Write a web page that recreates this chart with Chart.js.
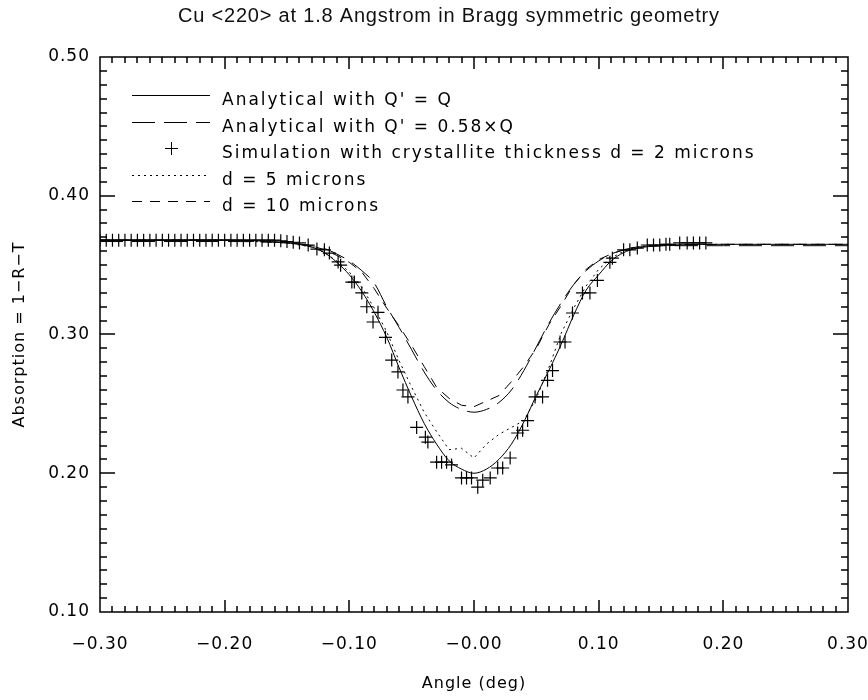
<!DOCTYPE html>
<html>
<head>
<meta charset="utf-8">
<script src="https://cdn.jsdelivr.net/npm/chart.js@4.4.1/dist/chart.umd.min.js"></script>
<style>
html, body { margin: 0; padding: 0; background: #fff; }
</style>
</head>
<body>
<canvas id="absChart" width="868" height="700"></canvas>
<script>
// axis ticks
const xTickValues = [-0.3, -0.2, -0.1, 0, 0.1, 0.2, 0.3];
const xTickLabels = ["\u22120.30", "\u22120.20", "\u22120.10", "\u22120.00", "0.10", "0.20", "0.30"];
const yTickValues = [0.1, 0.2, 0.3, 0.4, 0.5];
const yTickLabels = ["0.10", "0.20", "0.30", "0.40", "0.50"];

// angle grid used by the curves
const lineAngles = [-0.30, -0.20, -0.15, -0.13, -0.12, -0.11, -0.10, -0.09, -0.08, -0.07, -0.06,
    -0.05, -0.04, -0.03, -0.02, -0.01, 0.00, 0.01, 0.02, 0.03, 0.04, 0.05, 0.06, 0.07, 0.08,
    0.09, 0.10, 0.11, 0.12, 0.13, 0.15, 0.20, 0.30];

// analytical Q' = Q (solid)
const analyticQ = [0.368, 0.368, 0.366, 0.363, 0.359, 0.352, 0.343, 0.331, 0.316, 0.298, 0.276,
    0.255, 0.236, 0.221, 0.209, 0.203, 0.200, 0.203, 0.210, 0.221, 0.237, 0.256, 0.274, 0.293, 0.314,
    0.332, 0.343, 0.353, 0.359, 0.362, 0.364, 0.365, 0.365];

// analytical Q' = 0.58xQ (long dash)
const analytic058 = [0.367, 0.367, 0.366, 0.364, 0.362, 0.358, 0.353, 0.346, 0.337, 0.320, 0.305,
    0.289, 0.273, 0.260, 0.251, 0.246, 0.244, 0.246, 0.251, 0.260, 0.274, 0.291, 0.308, 0.323, 0.336,
    0.346, 0.353, 0.358, 0.361, 0.363, 0.364, 0.364, 0.364];

// simulation d = 5 microns (dotted)
const sim5 = [0.368, 0.368, 0.366, 0.363, 0.359, 0.353, 0.345, 0.334, 0.319, 0.302, 0.281,
    0.262, 0.244, 0.230, 0.217, 0.218, 0.211, 0.221, 0.228, 0.233, 0.238, 0.254, 0.276, 0.301, 0.319,
    0.335, 0.347, 0.355, 0.360, 0.363, 0.365, 0.365, 0.365];

// simulation d = 10 microns (short dash)
const sim10 = [0.368, 0.368, 0.366, 0.364, 0.361, 0.357, 0.352, 0.345, 0.333, 0.319, 0.306,
    0.292, 0.277, 0.262, 0.254, 0.249, 0.248, 0.252, 0.256, 0.266, 0.277, 0.290, 0.307, 0.321, 0.336,
    0.347, 0.354, 0.358, 0.361, 0.363, 0.364, 0.365, 0.365];

// simulation d = 2 microns (crosses)
const sim2Angles = [
    -0.300, -0.295, -0.290, -0.285, -0.280, -0.275, -0.270, -0.265, -0.260, -0.255,
    -0.250, -0.245, -0.240, -0.235, -0.230, -0.225, -0.220, -0.215, -0.210, -0.205,
    -0.200, -0.195, -0.190, -0.185, -0.180, -0.175, -0.170, -0.165, -0.160, -0.155,
    -0.150, -0.145, -0.140,
    -0.133, -0.126, -0.120, -0.116, -0.109, -0.107, -0.098, -0.096, -0.090, -0.086,
    -0.081, -0.077, -0.071, -0.066, -0.061, -0.057, -0.053, -0.046, -0.039, -0.037,
    -0.030, -0.026, -0.022, -0.018, -0.010, -0.006, -0.002, 0.003, 0.007, 0.013,
    0.019, 0.023, 0.029, 0.035, 0.039, 0.043, 0.049, 0.055, 0.059, 0.063,
    0.069, 0.073, 0.079, 0.087, 0.093, 0.099, 0.109, 0.111, 0.120, 0.125,
    0.131, 0.139, 0.144, 0.149, 0.154, 0.157, 0.165, 0.171, 0.176, 0.181, 0.186];
const sim2 = [
    0.368, 0.368, 0.368, 0.368, 0.368, 0.368, 0.368, 0.368, 0.368, 0.368,
    0.368, 0.368, 0.368, 0.368, 0.368, 0.368, 0.368, 0.368, 0.368, 0.368,
    0.368, 0.368, 0.368, 0.368, 0.368, 0.368, 0.368, 0.368, 0.368, 0.3675,
    0.367, 0.3665, 0.366,
    0.3645, 0.3616, 0.361, 0.3587, 0.3523, 0.350, 0.3378, 0.3378, 0.330, 0.320,
    0.309, 0.316, 0.298, 0.2816, 0.273, 0.260, 0.255, 0.233, 0.226, 0.2225,
    0.208, 0.208, 0.208, 0.206, 0.1966, 0.1966, 0.1966, 0.190, 0.195, 0.1966,
    0.2038, 0.2038, 0.211, 0.229, 0.231, 0.238, 0.255, 0.255, 0.267, 0.274,
    0.2946, 0.2946, 0.3155, 0.330, 0.330, 0.339, 0.352, 0.355, 0.361, 0.361,
    0.3623, 0.3645, 0.3645, 0.3645, 0.365, 0.365, 0.366, 0.366, 0.366, 0.366, 0.366];

// tick marks every 0.01, long ones on the labelled values
const xMinorStep = 0.01;
const yMinorStep = 0.01;

const toPoints = (xs, ys) => xs.map((x, i) => ({ x: x, y: ys[i] }));

const hershey = '"DejaVu Sans", sans-serif';

// a bit of letter spacing, the original font is wide
const spacing = {
    id: "spacing",
    beforeDraw(chart) { chart.ctx.letterSpacing = "1px"; },
    afterDraw(chart) { chart.ctx.letterSpacing = "0px"; }
};

// box round the plot with inward ticks on all four sides
const frameTicks = {
    id: "frameTicks",
    afterDraw(chart) {
        const ctx = chart.ctx;
        const a = chart.chartArea;
        const xs = chart.scales["x"];
        const ys = chart.scales["y"];
        ctx.save();
        ctx.setLineDash([]);
        ctx.strokeStyle = "#000";
        ctx.lineWidth = 1.5;
        ctx.beginPath();
        ctx.rect(a.left, a.top, a.right - a.left, a.bottom - a.top);
        const nx = Math.round((xs.max - xs.min) / xMinorStep);
        for (let i = 0; i <= nx; i++) {
            const v = xs.min + i * xMinorStep;
            const px = Math.round(xs.getPixelForValue(v));
            const big = xTickValues.some(t => Math.abs(t - v) < 1e-6);
            const len = big ? 12 : 6;
            ctx.moveTo(px, a.bottom); ctx.lineTo(px, a.bottom - len);
            ctx.moveTo(px, a.top); ctx.lineTo(px, a.top + len);
        }
        const ny = Math.round((ys.max - ys.min) / yMinorStep);
        for (let j = 0; j <= ny; j++) {
            const v = ys.min + j * yMinorStep;
            const py = Math.round(ys.getPixelForValue(v));
            const big = yTickValues.some(t => Math.abs(t - v) < 1e-6);
            const len = big ? 15 : 7;
            ctx.moveTo(a.left, py); ctx.lineTo(a.left + len, py);
            ctx.moveTo(a.right, py); ctx.lineTo(a.right - len, py);
        }
        ctx.stroke();
        ctx.restore();
    }
};

// legend drawn inside the plot, top left
const legendOrder = [0, 1, 2, 3, 4];
const legendInside = {
    id: "legendInside",
    afterDraw(chart) {
        const ctx = chart.ctx;
        ctx.save();
        ctx.font = "17px " + hershey;
        ctx.letterSpacing = "2px";
        ctx.fillStyle = "#000";
        ctx.strokeStyle = "#000";
        ctx.lineWidth = 1;
        legendOrder.forEach((di, row) => {
            const ds = chart.data.datasets[di];
            const y = Math.round(95 + row * 26.5) + 0.5;
            if (ds.showLine === false) {
                ctx.setLineDash([]);
                ctx.beginPath();
                ctx.moveTo(165, y); ctx.lineTo(178, y);
                ctx.moveTo(171.5, y - 6.5); ctx.lineTo(171.5, y + 6.5);
                ctx.stroke();
            } else {
                ctx.setLineDash(ds.borderDash || []);
                ctx.beginPath();
                ctx.moveTo(132, y); ctx.lineTo(210, y);
                ctx.stroke();
            }
            ctx.fillText(ds.label, 222, y + 9);
        });
        ctx.restore();
    }
};

// title on top
const topTitle = {
    id: "topTitle",
    afterDraw(chart) {
        const ctx = chart.ctx;
        ctx.save();
        ctx.letterSpacing = "0.8px";
        ctx.font = '20px "Liberation Sans", Arial, sans-serif';
        ctx.fillStyle = "#111";
        ctx.textBaseline = "alphabetic";
        ctx.fillText("Cu <220> at 1.8 Angstrom in Bragg symmetric geometry", 178, 22);
        ctx.restore();
    }
};

new Chart(document.getElementById("absChart"), {
    type: "scatter",
    data: {
        datasets: [
            {
                label: "Analytical with Q' = Q",
                data: toPoints(lineAngles, analyticQ),
                showLine: true,
                borderColor: "#000",
                borderWidth: 1,
                pointRadius: 0,
                cubicInterpolationMode: "monotone"
            },
            {
                label: "Analytical with Q' = 0.58\u00d7Q",
                data: toPoints(lineAngles, analytic058),
                showLine: true,
                borderColor: "#000",
                borderWidth: 1,
                borderDash: [23, 9],
                pointRadius: 0,
                cubicInterpolationMode: "monotone"
            },
            {
                label: "Simulation with crystallite thickness d = 2 microns",
                data: toPoints(sim2Angles, sim2),
                showLine: false,
                pointStyle: "cross",
                pointRadius: 6.5,
                borderColor: "#000",
                borderWidth: 1.2,
                backgroundColor: "#000"
            },
            {
                label: "d = 5 microns",
                data: toPoints(lineAngles, sim5),
                showLine: true,
                borderColor: "#000",
                borderWidth: 1,
                borderDash: [2, 4],
                pointRadius: 0
            },
            {
                label: "d = 10 microns",
                data: toPoints(lineAngles, sim10),
                showLine: true,
                borderColor: "#000",
                borderWidth: 1,
                borderDash: [10, 8],
                pointRadius: 0
            }
        ]
    },
    plugins: [spacing, frameTicks, legendInside, topTitle],
    options: {
        responsive: false,
        animation: false,
        layout: { padding: { top: 57, right: 20, bottom: 0, left: 0 } },
        plugins: {
            legend: { display: false },
            title: { display: false },
            tooltip: { enabled: false }
        },
        scales: {
            x: {
                type: "linear",
                min: -0.3,
                max: 0.3,
                grid: { display: false, drawTicks: false },
                border: { display: false },
                afterBuildTicks: (scale) => { scale.ticks = xTickValues.map(v => ({ value: v })); },
                afterFit: (scale) => { scale.height = 88; scale.paddingLeft = 0; scale.paddingRight = 0; },
                ticks: {
                    color: "#000",
                    font: { family: hershey, size: 17 },
                    padding: 22,
                    maxRotation: 0,
                    autoSkip: false,
                    callback: (v, i) => xTickLabels[i]
                },
                title: {
                    display: true,
                    text: "Angle (deg)",
                    color: "#000",
                    font: { family: hershey, size: 16 },
                    padding: { top: 0, bottom: 7 }
                }
            },
            y: {
                type: "linear",
                min: 0.1,
                max: 0.5,
                grid: { display: false, drawTicks: false },
                border: { display: false },
                afterBuildTicks: (scale) => { scale.ticks = yTickValues.map(v => ({ value: v })); },
                afterFit: (scale) => { scale.width = 100; },
                ticks: {
                    color: "#000",
                    font: { family: hershey, size: 17 },
                    padding: 10,
                    autoSkip: false,
                    callback: (v, i) => yTickLabels[i]
                },
                title: {
                    display: true,
                    text: "Absorption = 1\u2212R\u2212T",
                    color: "#000",
                    font: { family: hershey, size: 16 },
                    padding: { top: 10, bottom: 0 }
                }
            }
        }
    }
});
</script>
</body>
</html>
